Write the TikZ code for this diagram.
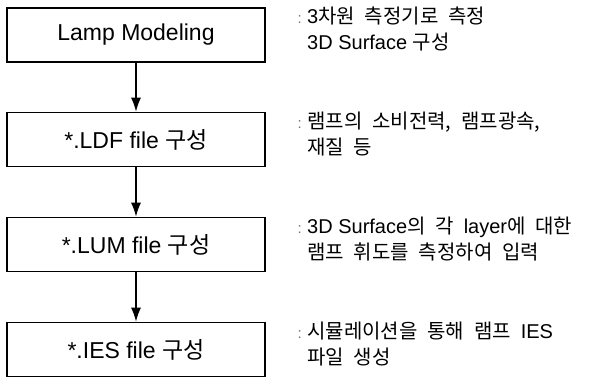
\documentclass[tikz,border=0pt]{standalone}
\usepackage{fontspec}
\setmainfont{Liberation Sans}
\newfontfamily\kr{Noto Sans CJK KR}
\newfontfamily\krnote[WordSpace=2.2]{Noto Sans CJK KR}
\usetikzlibrary{arrows.meta}
\begin{document}
\begin{tikzpicture}[x=1pt,y=-1pt,
  stepbox/.style={draw, line width=1.6pt, minimum width=258pt, minimum height=54pt,
    inner sep=0pt, font=\fontsize{23}{27}\selectfont},
  note/.style={anchor=base west, inner sep=0pt, font=\fontsize{20}{24}\selectfont},
  colonmark/.style={anchor=base east, inner sep=0pt, text=black!55,
    font=\fontsize{15}{18}\selectfont},
  flow/.style={line width=1.4pt, -{Latex[length=14pt,width=10pt]}}]
\useasboundingbox (0,0) rectangle (606,378);

% process steps
\node[stepbox] (s1) at (136,35)    {Lamp Modeling};
\node[stepbox] (s2) at (136,139.5) {*.LDF file {\kr 구성}};
\node[stepbox] (s3) at (136,244.5) {*.LUM file {\kr 구성}};
\node[stepbox] (s4) at (136,349.5) {*.IES file {\kr 구성}};

\draw[flow] (s1) -- (s2);
\draw[flow] (s2) -- (s3);
\draw[flow] (s3) -- (s4);

% remarks beside each step
\newcommand\hg[1]{{\krnote #1}}
\node[colonmark] (c1) at (302,23) {:};
\node[note] (n1a) at (307,23) {3\hg{차원 측정기로 측정}};
\node[note] (n1b) at (307,49) {3D Surface \hg{구성}};

\node[colonmark] (c2) at (302,128) {:};
\node[note] (n2a) at (307,128) {\hg{램프의 소비전력, 램프광속,}};
\node[note] (n2b) at (307,154) {\hg{재질 등}};

\node[colonmark] (c3) at (302,233) {:};
\node[note] (n3a) at (307,233) {3D Surface\hg{의 각 }layer\hg{에 대한}};
\node[note] (n3b) at (307,259) {\hg{램프 휘도를 측정하여 입력}};

\node[colonmark] (c4) at (302,338) {:};
\node[note] (n4a) at (307,338) {\hg{시뮬레이션을 통해 램프 }IES};
\node[note] (n4b) at (307,364) {\hg{파일 생성}};
\end{tikzpicture}
\end{document}
